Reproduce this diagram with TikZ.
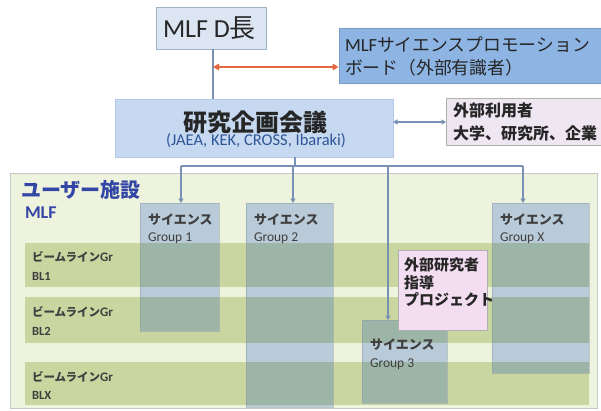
\documentclass[tikz,border=0pt]{standalone}
\usepackage{fontspec}
\setmainfont{Carlito}
\newfontfamily\jp{Noto Sans CJK JP}
\usetikzlibrary{arrows.meta}
\definecolor{dchoufill}{HTML}{DCE6F2}
\definecolor{dchoudraw}{HTML}{9FB2C8}
\definecolor{boardfill}{HTML}{8DB4E2}
\definecolor{boarddraw}{HTML}{7A9CC6}
\definecolor{kenfill}{HTML}{C6D9F1}
\definecolor{kendraw}{HTML}{B4C7E7}
\definecolor{extfill}{HTML}{EEE7F1}
\definecolor{boxgray}{HTML}{B0B0B0}
\definecolor{redarrow}{HTML}{E4663F}
\definecolor{connblue}{HTML}{7891B4}
\definecolor{outerfill}{HTML}{EEF3DE}
\definecolor{outerdraw}{HTML}{C4C8CC}
\definecolor{barfill}{HTML}{CAD6A0}
\definecolor{grpblue}{HTML}{0040C3}
\definecolor{grpdraw}{HTML}{8C9CAA}
\definecolor{pinkfill}{HTML}{F3DDF0}
\definecolor{titleblue}{HTML}{3346A6}
\definecolor{subblue}{HTML}{2E5597}
\definecolor{textdark}{HTML}{262626}
\definecolor{textgray}{HTML}{3F3F3F}
\tikzset{
  plainbox/.style={anchor=north west, inner sep=0pt, outer sep=0pt},
  grpbox/.style={plainbox, fill=grpblue, fill opacity=0.22, draw=grpdraw, draw opacity=0.5, line width=0.6pt},
  barbox/.style={plainbox, fill=barfill},
  lbl/.style={anchor=west, inner sep=0pt, outer sep=0pt},
  conn/.style={draw=connblue, line width=1.5pt},
  conntip/.style={conn, -{Triangle[length=4.5pt,width=5pt]}},
  sci/.style={lbl, text=textgray, font=\jp\bfseries\fontsize{13}{15}\selectfont},
  grp/.style={lbl, text=textgray, font=\fontsize{13.5}{15}\selectfont},
  bljp/.style={lbl, text=textgray, font=\jp\bfseries\fontsize{11.5}{14}\selectfont},
  bllat/.style={lbl, text=textgray, font=\bfseries\fontsize{12.5}{14}\selectfont},
}
\begin{document}
\begin{tikzpicture}[x=1pt,y=-1pt]
\useasboundingbox (0,0) rectangle (601,410);
\fill[white] (0,0) rectangle (601,410);

% top boxes
\node[plainbox, fill=dchoufill, draw=dchoudraw, line width=0.8pt, minimum width=110pt, minimum height=42pt] (dchou) at (156,7) {};
\node[lbl, text=textdark, font=\fontsize{26}{30}\selectfont] (dchoutxt) at (163,28) {MLF D{\jp 長}};

\node[plainbox, fill=boardfill, draw=boarddraw, line width=0.8pt, minimum width=270pt, minimum height=55pt] (board) at (339,28) {};
\node[lbl, align=left, text=textdark, font=\fontsize{17.8}{23}\selectfont] (boardtxt) at (345,56.5) {{\fontsize{18.5}{23}\selectfont MLF}{\jp サイエンスプロモーション}\\{\jp ボード（外部有識者）}};

\node[plainbox, fill=kenfill, draw=kendraw, line width=0.8pt, minimum width=278pt, minimum height=58pt] (kenkyu) at (115,99) {};
\node[inner sep=0pt, text=textdark, font=\jp\bfseries\fontsize{24}{28}\selectfont] (kentxt) at (255,122) {研究企画会議};
\node[inner sep=0pt, text=subblue, font=\fontsize{16.5}{18}\selectfont] (kensub) at (256,141) {(JAEA, KEK, CROSS, Ibaraki)};

\node[plainbox, fill=extfill, draw=boxgray, line width=0.8pt, minimum width=170pt, minimum height=47pt] (ext) at (446,98) {};
\node[lbl, align=left, text=textdark, font=\jp\bfseries\fontsize{16}{23}\selectfont] (exttxt) at (453,121.5) {外部利用者\\大学、研究所、企業};

% top connectors
\draw[conn] (dchou.south -| 213,0) -- (kenkyu.north -| 213,0);
\coordinate (rl) at (213,67);
\coordinate (rr) at (338.6,67);
\draw[draw=redarrow, line width=2pt, {Triangle[length=6pt,width=6.5pt]}-{Triangle[length=6pt,width=6.5pt]}] (rl) -- (rr);
\draw[conn, {Triangle[length=4.5pt,width=5pt]}-{Triangle[length=4.5pt,width=5pt]}] (kenkyu.east |- 0,122) -- (ext.west |- 0,122);

% user facility
\node[plainbox, fill=outerfill, draw=outerdraw, line width=0.8pt, minimum width=587pt, minimum height=235pt] (outer) at (10,173) {};
\node[lbl, text=titleblue, font=\jp\bfseries\fontsize{20}{24}\selectfont] (usertxt) at (21,190) {ユーザー施設};
\node[lbl, text=titleblue, font=\bfseries\fontsize{18}{20}\selectfont] (mlftxt) at (25,213) {MLF};

% beamline bars
\node[barbox, minimum width=564pt, minimum height=44pt] (bl1) at (25,243) {};
\node[barbox, minimum width=564pt, minimum height=46pt] (bl2) at (25,297) {};
\node[barbox, minimum width=564pt, minimum height=43pt] (blx) at (25,362) {};
\node[bljp] (bl1a) at (32,257) {ビームライン{\rmfamily\fontsize{13}{14}\selectfont Gr}};
\node[bllat] (bl1b) at (32,276) {BL1};
\node[bljp] (bl2a) at (32,312) {ビームライン{\rmfamily\fontsize{13}{14}\selectfont Gr}};
\node[bllat] (bl2b) at (32,331) {BL2};
\node[bljp] (blxa) at (32,377) {ビームライン{\rmfamily\fontsize{13}{14}\selectfont Gr}};
\node[bllat] (blxb) at (32,395) {BLX};

% science groups
\node[grpbox, minimum width=79pt, minimum height=128pt] (g1) at (140,203) {};
\node[grpbox, minimum width=87pt, minimum height=204pt] (g2) at (246,203) {};
\node[grpbox, minimum width=85pt, minimum height=83pt] (g3) at (362,320) {};
\node[grpbox, minimum width=97pt, minimum height=170pt] (gx) at (492,203) {};
\node[sci] (g1a) at (148,220) {サイエンス};
\node[grp] (g1b) at (148,238) {Group 1};
\node[sci] (g2a) at (254,220) {サイエンス};
\node[grp] (g2b) at (254,238) {Group 2};
\node[sci] (g3a) at (370,345) {サイエンス};
\node[grp] (g3b) at (370,364) {Group 3};
\node[sci] (gxa) at (500,220) {サイエンス};
\node[grp] (gxb) at (500,238) {Group X};

% external researcher project
\node[plainbox, fill=pinkfill, draw=boxgray, line width=0.6pt, minimum width=89pt, minimum height=80pt] (pink) at (398,250) {};
\node[lbl, align=left, text=textdark, font=\jp\bfseries\fontsize{15}{17.5}\selectfont] (pinktxt) at (404,282.5) {外部研究者\\指導\\プロジェクト};

% connectors to groups
\coordinate (hub) at (295,166);
\coordinate (c1) at (181,166);
\coordinate (c2) at (293,166);
\coordinate (c3) at (388,166);
\coordinate (c4) at (523,166);
\draw[conn] (kenkyu.south -| hub) -- (hub);
\draw[conn] (c1) -- (c4);
\draw[conntip] (c1) -- (c1 |- g1.north);
\draw[conntip] (c2) -- (c2 |- g2.north);
\draw[conntip] (c3) -- (c3 |- g3.north);
\draw[conntip] (c4) -- (c4 |- gx.north);
\end{tikzpicture}
\end{document}
